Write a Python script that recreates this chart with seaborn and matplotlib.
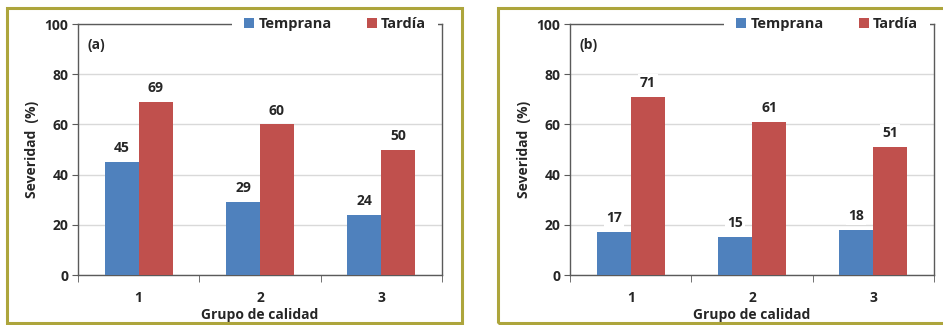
import matplotlib
matplotlib.use("Agg")
import matplotlib.pyplot as plt
from matplotlib.patches import Rectangle
import seaborn as sns
import pandas as pd

grupos = ["1", "2", "3"]
series = ["Temprana", "Tardía"]
temprana_a = [45, 29, 24]
tardia_a = [69, 60, 50]
temprana_b = [17, 15, 18]
tardia_b = [71, 61, 51]
paneles = ["(a)", "(b)"]
colores = {"Temprana": "#4F81BD", "Tardía": "#C0504D"}

sns.set_style("white")
plt.rcParams["font.family"] = ["Open Sans", "DejaVu Sans"]
plt.rcParams["font.weight"] = "bold"

fig = plt.figure(figsize=(9.43, 3.25), dpi=100)
borde = "#ADA53C"
fig.patches.append(Rectangle((0.0074, 0.006), 0.483, 0.969, transform=fig.transFigure,
                             fill=False, edgecolor=borde, linewidth=2.2))
fig.patches.append(Rectangle((0.528, 0.006), 0.49, 0.969, transform=fig.transFigure,
                             fill=False, edgecolor=borde, linewidth=2.2))

datos = [(temprana_a, tardia_a), (temprana_b, tardia_b)]
lefts = [0.0827, 0.6045]

for i, (temp, tard) in enumerate(datos):
    ax = fig.add_axes([lefts[i], 0.1538, 0.386, 0.772])
    df = pd.DataFrame({
        "grupo": grupos * 2,
        "epoca": [series[0]] * 3 + [series[1]] * 3,
        "sev": temp + tard,
    })
    sns.barplot(data=df, x="grupo", y="sev", hue="epoca", palette=colores,
                width=0.56, saturation=1, linewidth=0, ax=ax, zorder=3)
    for c in ax.containers:
        ax.bar_label(c, fmt="%d", padding=5, fontsize=10, fontweight="bold",
                     bbox=dict(facecolor="white", edgecolor="none", pad=1.5), zorder=4)

    ax.set_xlim(-0.5, 2.5)
    ax.set_ylim(0, 100)
    ax.set_yticks(range(0, 101, 20))
    ax.yaxis.grid(True, color="#D9D9D9", linewidth=1)
    ax.set_axisbelow(True)
    for s in ax.spines.values():
        s.set_color("#5A5A5A")
        s.set_linewidth(1)
    ax.tick_params(axis="y", left=True, length=4, color="#5A5A5A", labelsize=10, pad=3)
    ax.tick_params(axis="x", which="major", bottom=False, labelsize=10, pad=8)
    ax.set_xticks([-0.5, 0.5, 1.5, 2.5], minor=True)
    ax.tick_params(axis="x", which="minor", bottom=True, length=5, color="#5A5A5A")
    for lab in ax.get_xticklabels() + ax.get_yticklabels():
        lab.set_fontweight("bold")

    ax.set_xlabel("Grupo de calidad", fontsize=10, fontweight="bold", labelpad=2)
    ax.set_ylabel("Severidad  (%)", fontsize=10, fontweight="bold", labelpad=4)
    ax.text(0.05, 0.915, paneles[i], transform=ax.transAxes, fontsize=10,
            fontweight="bold", ha="center", va="center")

    leg = ax.legend(loc="center", bbox_to_anchor=(0.706, 1.0), ncol=2, frameon=True,
                    fancybox=False, edgecolor="none", framealpha=1,
                    handlelength=0.7, handleheight=0.7, handletextpad=0.3,
                    columnspacing=2.4, fontsize=10.5, borderpad=0.2, borderaxespad=0)
    leg._legend_box.sep = 0
    for t in leg.get_texts():
        t.set_fontweight("bold")
    frame = leg.get_frame()
    frame.set_boxstyle("square", pad=0.6)

fig.savefig("out.png", dpi=100)
